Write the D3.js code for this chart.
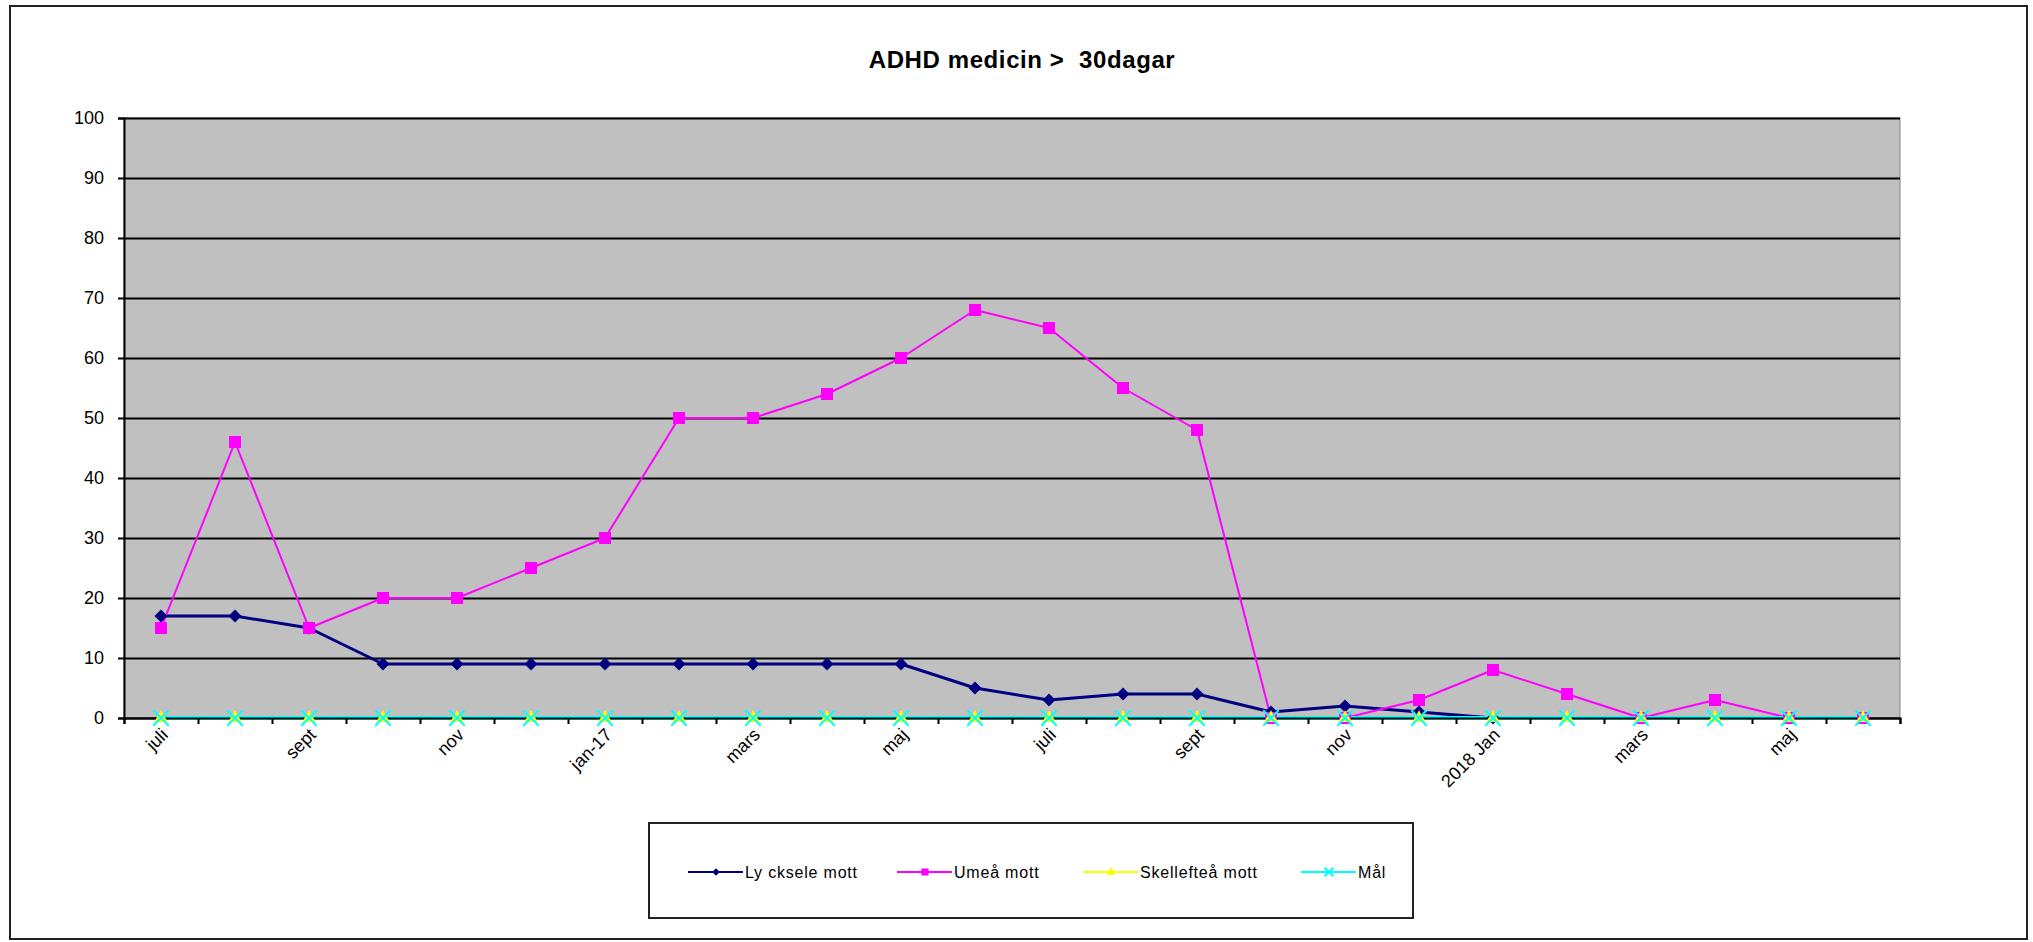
<!DOCTYPE html>
<html>
<head>
<meta charset="utf-8">
<script src="https://cdn.jsdelivr.net/npm/d3@7"></script>
<style>
  body { margin: 0; background: #fff; }
  svg text { font-family: "Liberation Sans", Arial, sans-serif; fill: #000; }
</style>
</head>
<body>
<div id="graphic"></div>
<script>
// Chart data
const categories = ["juli", "aug", "sept", "okt", "nov", "dec", "jan-17", "feb", "mars", "april", "maj", "juni",
                    "juli", "aug", "sept", "okt", "nov", "dec", "2018 Jan", "feb", "mars", "april", "maj", "juni"];
// only every other category gets a label, like the original
const tickLabels = ["juli", "", "sept", "", "nov", "", "jan-17", "", "mars", "", "maj", "",
                    "juli", "", "sept", "", "nov", "", "2018 Jan", "", "mars", "", "maj", ""];
const lycksele = [17, 17, 15, 9, 9, 9, 9, 9, 9, 9, 9, 5, 3, 4, 4, 1, 2, 1, 0, null, null, null, null, null];
const umea = [15, 46, 15, 20, 20, 25, 30, 50, 50, 54, 60, 68, 65, 55, 48, 0, 0, 3, 8, 4, 0, 3, 0, 0];
const skelleftea = [0, 0, 0, 0, 0, 0, 0, 0, 0, 0, 0, 0, 0, 0, 0, 0, 0, 0, 0, 0, 0, 0, 0, 0];
const mal = [0, 0, 0, 0, 0, 0, 0, 0, 0, 0, 0, 0, 0, 0, 0, 0, 0, 0, 0, 0, 0, 0, 0, 0];
const yTicks = [0, 10, 20, 30, 40, 50, 60, 70, 80, 90, 100];
const seriesNames = ["Ly cksele mott", "Umeå mott", "Skellefteå mott", "Mål"];

const svgWidth = 2033;
const svgHeight = 942;
const plot = { left: 124, right: 1900, top: 118, bottom: 718 };

const svg = d3.select("#graphic")
    .append("svg")
    .attr("width", svgWidth)
    .attr("height", svgHeight);

// Outer chart border
svg.append("rect")
    .attr("x", 10).attr("y", 6)
    .attr("width", 2017).attr("height", 933)
    .attr("fill", "#fff")
    .attr("stroke", "#222")
    .attr("stroke-width", 2);

// Title (two spaces kept before 30dagar)
svg.append("text")
    .attr("x", 1022)
    .attr("y", 68)
    .attr("text-anchor", "middle")
    .style("font-size", "24px")
    .style("font-weight", "bold")
    .style("letter-spacing", "0.6px")
    .style("white-space", "pre")
    .text("ADHD medicin >  30dagar");

// Scales
const xScale = d3.scaleBand()
    .domain(d3.range(categories.length))
    .range([plot.left, plot.right])
    .padding(0);
const xEdges = d3.scaleLinear()
    .domain([0, categories.length])
    .range([plot.left, plot.right]);
const yScale = d3.scaleLinear()
    .domain([0, 100])
    .range([plot.bottom, plot.top]);
const cx = i => xScale(i) + xScale.bandwidth() / 2;

// Plot background
svg.append("rect")
    .attr("x", plot.left).attr("y", plot.top)
    .attr("width", plot.right - plot.left)
    .attr("height", plot.bottom - plot.top)
    .attr("fill", "#c0c0c0")
    .attr("stroke", "#808080")
    .attr("stroke-width", 1);

// Gridlines
svg.append("g")
    .attr("transform", "translate(" + plot.left + ",0)")
    .call(d3.axisLeft(yScale).tickValues(yTicks).tickSize(-(plot.right - plot.left)).tickFormat(""))
    .call(g => g.select(".domain").remove())
    .call(g => g.selectAll("line").attr("stroke", "#000").attr("stroke-width", 2));

// Series
const series = [
    { name: seriesNames[0], values: lycksele, color: "#000080", width: 3, marker: "diamond" },
    { name: seriesNames[1], values: umea, color: "#ff00ff", width: 2, marker: "square" },
    { name: seriesNames[2], values: skelleftea, color: "#ffff00", width: 2, marker: "triangle" },
    { name: seriesNames[3], values: mal, color: "#00ffff", width: 4, marker: "x" }
];

function markerPath(type, big) {
    if (type === "diamond") return d3.symbol().type(d3.symbolSquare).size(big ? 85 : 30)();
    if (type === "square") return d3.symbol().type(d3.symbolSquare).size(big ? 144 : 50)();
    if (type === "triangle") return d3.symbol().type(d3.symbolTriangle).size(big ? 80 : 36)();
    return d3.symbol().type(d3.symbolX).size(big ? 160 : 50)();
}
function styleMarker(sel, s) {
    sel.attr("d", markerPath(s.marker, sel.classed("legend-marker") ? false : true));
    if (s.marker === "x") {
        sel.attr("fill", "none").attr("stroke", s.color).attr("stroke-width", 2);
    } else {
        sel.attr("fill", s.color).attr("stroke", "none");
    }
}

const line = d3.line()
    .defined(d => d != null)
    .x((d, i) => cx(i))
    .y(d => yScale(d));

const linesG = svg.append("g");
series.forEach(s => {
    linesG.append("path")
        .datum(s.values)
        .attr("fill", "none")
        .attr("stroke", s.color)
        .attr("stroke-width", s.width)
        .attr("stroke-linejoin", "round")
        .attr("d", line);
});

// Y axis
svg.append("g")
    .attr("transform", "translate(" + plot.left + ",0)")
    .call(d3.axisLeft(yScale).tickValues(yTicks).tickSize(6).tickPadding(14))
    .call(g => g.select(".domain").attr("stroke", "#000").attr("stroke-width", 2))
    .call(g => g.selectAll("line").attr("stroke", "#000").attr("stroke-width", 2))
    .call(g => g.selectAll("text").style("font-size", "18px").attr("font-family", null));

// X axis: tick marks at category edges
svg.append("g")
    .attr("transform", "translate(0," + plot.bottom + ")")
    .call(d3.axisBottom(xEdges).tickValues(d3.range(categories.length + 1)).tickSize(6).tickFormat(""))
    .call(g => g.select(".domain").attr("stroke", "#000").attr("stroke-width", 2))
    .call(g => g.selectAll("line").attr("stroke", "#000").attr("stroke-width", 2));

// X axis labels, rotated
svg.append("g")
    .attr("transform", "translate(0," + plot.bottom + ")")
    .call(d3.axisBottom(xScale).tickSize(0).tickFormat(i => tickLabels[i]))
    .call(g => g.select(".domain").remove())
    .call(g => g.selectAll("text")
        .attr("font-family", null)
        .style("font-size", "18px")
        .attr("text-anchor", "end")
        .attr("dy", null)
        .attr("y", 0)
        .attr("transform", "translate(8,18) rotate(-45)"));

// Markers
series.forEach(s => {
    svg.append("g")
        .selectAll("path")
        .data(s.values.map((v, i) => ({ v, i })).filter(d => d.v != null))
        .enter()
        .append("path")
        .attr("transform", d => "translate(" + cx(d.i) + "," + yScale(d.v) + ")" + (s.marker === "diamond" ? " rotate(45)" : ""))
        .call(sel => styleMarker(sel, s));
});

// Legend
const legend = svg.append("g");
legend.append("rect")
    .attr("x", 649).attr("y", 823)
    .attr("width", 764).attr("height", 95)
    .attr("fill", "#fff")
    .attr("stroke", "#222")
    .attr("stroke-width", 2);

const legendX = [688, 897, 1083, 1301];
series.forEach((s, k) => {
    const item = legend.append("g").attr("transform", "translate(" + legendX[k] + ",872)");
    item.append("line")
        .attr("x1", 0).attr("x2", 55)
        .attr("stroke", s.color)
        .attr("stroke-width", 2);
    item.append("path")
        .attr("class", "legend-marker")
        .attr("transform", "translate(28,0)" + (s.marker === "diamond" ? " rotate(45)" : ""))
        .call(sel => styleMarker(sel, s));
    item.append("text")
        .attr("x", 57)
        .attr("dy", "0.35em")
        .style("font-size", "16px")
        .style("letter-spacing", "0.8px")
        .text(s.name);
});
</script>
</body>
</html>
